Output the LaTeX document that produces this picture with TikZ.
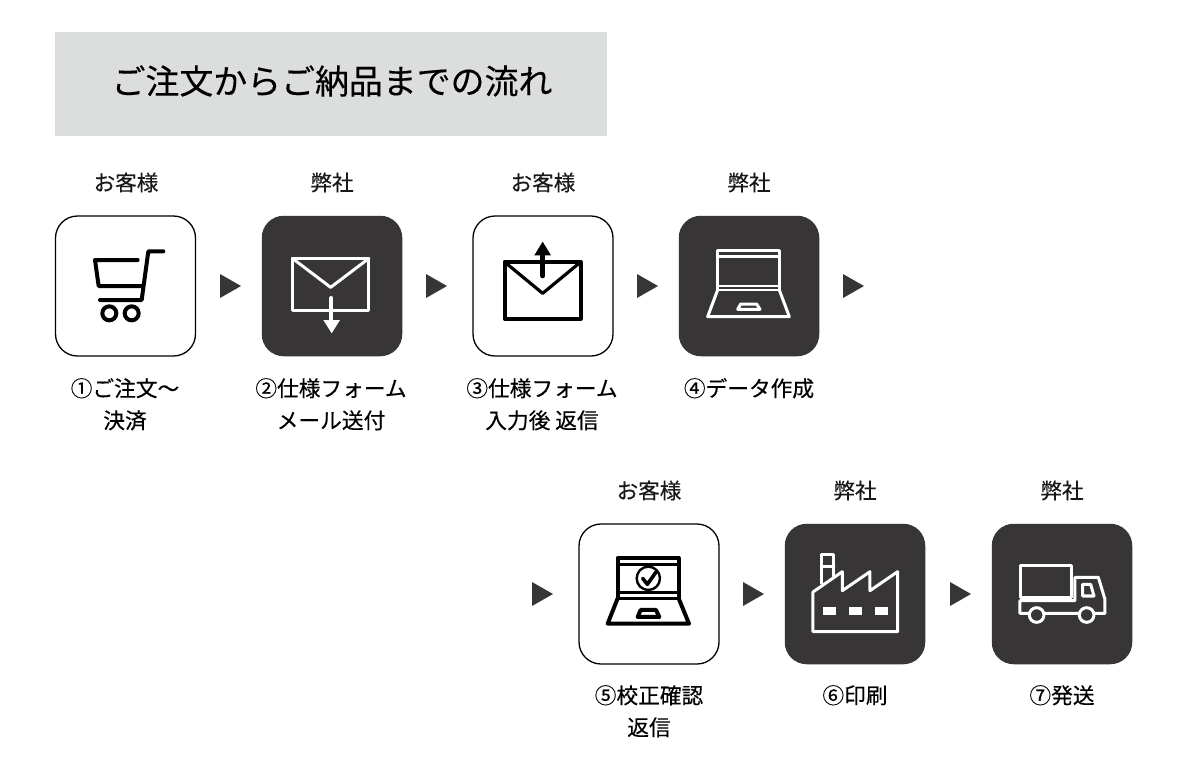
\documentclass[tikz,border=0pt]{standalone}
\usepackage{fontspec}
\setmainfont{Noto Sans CJK JP}[FakeBold=0.25]
\begin{document}
\begin{tikzpicture}[x=1pt,y=-1pt,
  lab/.style={inner sep=0pt,font=\fontsize{21.6}{24}\selectfont,text=black!90},
  captxt/.style={inner sep=0pt,font=\fontsize{21.7}{24}\selectfont,text=black,text height=18pt,text depth=3pt},
  boxw/.style={draw=black,line width=1.3pt,fill=white,rounded corners=22pt,minimum width=140pt,minimum height=140pt,inner sep=0pt},
  boxd/.style={fill=dk,rounded corners=22pt,minimum width=140.5pt,minimum height=140.5pt,inner sep=0pt},
  tri/.style={fill=dk},
  iconb/.style={draw=black,line width=4pt,line join=round,line cap=round},
  iconw/.style={draw=white,line width=3pt,line join=round,line cap=round},
  zoomed/.style={x=0.33333pt,y=-0.33333pt}]
\definecolor{dk}{HTML}{373536}
\definecolor{titlebg}{HTML}{DCDDDD}
\path[use as bounding box] (0,0) rectangle (1200,777);
\fill[white] (0,0) rectangle (1200,777);
\node[fill=titlebg,minimum width=552pt,minimum height=104pt,inner sep=0pt] (title) at (331,84) {};
\node[inner sep=0pt,font=\fontsize{33.9}{36}\selectfont,text=black] (titletext) at (332,81) {ご注文からご納品までの流れ};
% boxes
\node[boxw] (b1) at (125.5,286) {};
\node[boxd] (b2) at (332,286) {};
\node[boxw] (b3) at (543,286) {};
\node[boxd] (b4) at (749,286) {};
\node[boxw] (b5) at (649,594) {};
\node[boxd] (b6) at (855,594) {};
\node[boxd] (b7) at (1062,594) {};
% labels
\node[lab] (l1) at (126,182.5) {お客様};
\node[lab] (l2) at (332,182.5) {弊社};
\node[lab] (l3) at (543,182.5) {お客様};
\node[lab] (l4) at (749,182.5) {弊社};
\node[lab] (l5) at (649,490.5) {お客様};
\node[lab] (l6) at (855,490.5) {弊社};
\node[lab] (l7) at (1062,490.5) {弊社};
% captions
\node[captxt] (c1a) at (125,389) {①ご注文〜};
\node[captxt] (c1b) at (125,421) {決済};
\node[captxt] (c2a) at (331,389) {②仕様フォーム};
\node[captxt] (c2b) at (331,421) {メール送付};
\node[captxt] (c3a) at (542,389) {③仕様フォーム};
\node[captxt] (c3b) at (542,421) {入力後 返信};
\node[captxt] (c4a) at (749,389) {④データ作成};
\node[captxt] (c5a) at (649,696) {⑤校正確認};
\node[captxt] (c5b) at (649,728) {返信};
\node[captxt] (c6a) at (855,696) {⑥印刷};
\node[captxt] (c7a) at (1062,696) {⑦発送};
% triangles
\foreach \x/\y in {220/286,426/286,637/286,843/286,532/594,743/594,950/594}
  \fill[tri] (\x,\y-12) -- (\x+21,\y) -- (\x,\y+12) -- cycle;
% cart
\begin{scope}[zoomed,shift={(150,630)}]
  \draw[iconb] (340,124) -- (295,124) -- (275,270) -- (150,270);
  \draw[iconb] (263,150) -- (135,150) -- (146,228) -- (275,228);
  \draw[iconb] (178,310) circle[radius=21];
  \draw[iconb] (245,310) circle[radius=21];
\end{scope}
% mail down
\begin{scope}[zoomed,shift={(150,630)}]
  \draw[iconw] (727,145) rectangle (957,301);
  \draw[iconw] (727,145) -- (842,232) -- (957,145);
  \draw[iconw,line width=4pt] (844,264) -- (844,335);
  \fill[white] (820,330) -- (870,330) -- (845,370) -- cycle;
\end{scope}
% mail up
\begin{scope}[zoomed,shift={(1410,630)}]
  \draw[iconb] (104,156) rectangle (332,326);
  \draw[iconb,line width=3.2pt] (104,156) -- (218,250) -- (332,156);
  \draw[iconb,line width=4.6pt] (218,198) -- (218,135);
  \fill[black] (193,136) -- (243,136) -- (218,95) -- cycle;
\end{scope}
% laptop white
\begin{scope}[zoomed,shift={(1410,630)}]
  \draw[iconw] (743,240) -- (743,120) -- (928,120) -- (928,240);
  \draw[iconw,line width=2.4pt] (743,140) -- (928,140);
  \draw[iconw,line width=2.4pt] (743,228) -- (928,228);
  \draw[iconw,line width=2.4pt] (743,240) -- (928,240);
  \draw[iconw] (743,240) -- (713,320) -- (958,320) -- (928,240);
  \draw[iconw] (812,282) -- (860,282) -- (870,298) -- (803,298) -- cycle;
\end{scope}
% laptop check
\begin{scope}[zoomed,shift={(1725,1560)}]
  \draw[iconb] (128,235) -- (128,114) -- (311,114) -- (311,235);
  \draw[iconb,line width=3pt] (128,132) -- (311,132);
  \draw[iconb,line width=3pt] (128,218) -- (311,218);
  \draw[iconb,line width=3pt] (128,235) -- (311,235);
  \draw[iconb] (128,235) -- (98,311) -- (342,311) -- (311,235);
  \draw[iconb] (197,270) -- (243,270) -- (253,291) -- (188,291) -- cycle;
  \draw[iconb,line width=2.4pt] (220,175) circle[radius=35];
  \draw[iconb,line width=3.6pt] (203,175) -- (217,193) -- (244,155);
\end{scope}
% factory
\begin{scope}[zoomed,shift={(1725,1560)}]
  \draw[iconw] (739,190) -- (739,104) -- (777,104) -- (777,168);
  \draw[iconw] (739,139) -- (777,139);
  \draw[iconw] (714,335) -- (714,216) -- (802,155) -- (802,212) -- (885,155) -- (885,212) -- (968,155) -- (968,335) -- cycle;
  \fill[white] (745,260) rectangle (782,285);
  \fill[white] (823,260) rectangle (860,285);
  \fill[white] (901,260) rectangle (938,285);
\end{scope}
% truck
\begin{scope}[zoomed,shift={(2955,1560)}]
  \draw[iconw] (108,135) rectangle (261,232);
  \draw[iconw] (105,242) -- (270,242) -- (270,172) -- (340,172) -- (360,238) -- (360,280) -- (105,280) -- cycle;
  \draw[iconw] (293,193) -- (317,193) -- (327,228) -- (293,228) -- cycle;
  \draw[iconw,fill=dk] (155,285) circle[radius=22];
  \draw[iconw,fill=dk] (305,285) circle[radius=22];
\end{scope}
\end{tikzpicture}
\end{document}
